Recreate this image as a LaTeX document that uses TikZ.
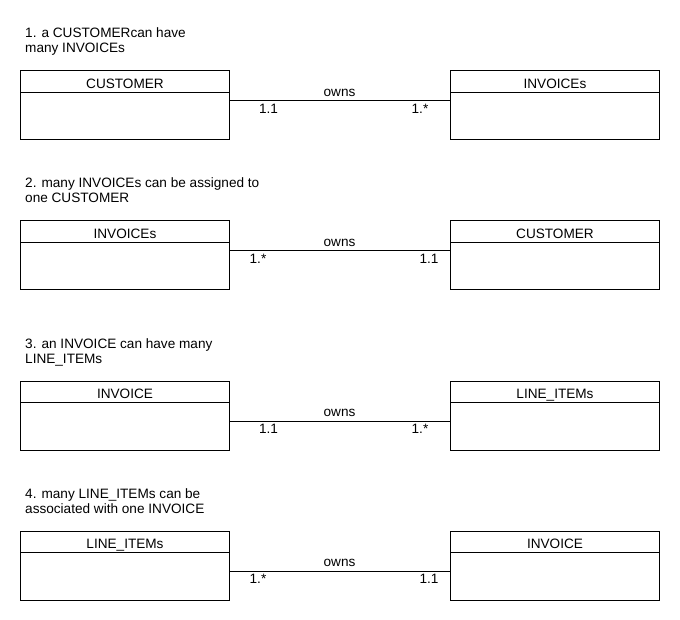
\documentclass[tikz,border=0pt]{standalone}
\usepackage{fontspec}
\setmainfont{Liberation Sans}
\usetikzlibrary{calc}
\tikzset{
  cls/.style={draw=black, line width=1pt, minimum width=209pt, minimum height=69pt, inner sep=0pt, anchor=north west},
  txt/.style={inner sep=0pt, font=\fontsize{13.6}{15}\selectfont},
  ttl/.style={txt, anchor=base west, align=left},
  conn/.style={draw=black, line width=1pt},
}
\newcommand{\umlbox}[4]{%
  \node[cls] (#1) at (#2,#3) {};
  \draw[line width=1pt] ([yshift=-22pt]#1.north west) -- ([yshift=-22pt]#1.north east);
  \node[txt, anchor=base] (#1t) at ([yshift=-18pt]#1.north) {#4};
}
\begin{document}
\begin{tikzpicture}[x=1pt, y=-1pt]
\useasboundingbox (0,0) rectangle (680,620);
\fill[white] (0,0) rectangle (680,620);
% 1
\node[ttl] (t1) at (25,53) {1. a CUSTOMERcan have\\many INVOICEs};
\umlbox{a1}{20}{70.5}{CUSTOMER}
\umlbox{b1}{450}{70.5}{INVOICEs}
\draw[conn] ([yshift=4.5pt]a1.east) -- ([yshift=4.5pt]b1.west);
\node[txt, anchor=base] (o1) at (339.5,96.5) {owns};
\node[txt, anchor=base] (m1a) at (268.5,113.5) {1.1};
\node[txt, anchor=base] (m1b) at (420,113.5) {1.*};
% 2
\node[ttl] (t2) at (25,203) {2. many INVOICEs can be assigned to\\one CUSTOMER};
\umlbox{a2}{20}{220.5}{INVOICEs}
\umlbox{b2}{450}{220.5}{CUSTOMER}
\draw[conn] ([yshift=4.5pt]a2.east) -- ([yshift=4.5pt]b2.west);
\node[txt, anchor=base] (o2) at (339.5,246.5) {owns};
\node[txt, anchor=base] (m2a) at (258,263.5) {1.*};
\node[txt, anchor=base] (m2b) at (429,263.5) {1.1};
% 3
\node[ttl] (t3) at (25,363) {3. an INVOICE can have many\\LINE\_ITEMs};
\umlbox{a3}{20}{380.5}{INVOICE}
\umlbox{b3}{450}{380.5}{LINE\_ITEMs}
\draw[conn] ([yshift=-5.5pt]a3.east) -- ([yshift=-5.5pt]b3.west);
\node[txt, anchor=base] (o3) at (339.5,416.5) {owns};
\node[txt, anchor=base] (m3a) at (268.5,433.5) {1.1};
\node[txt, anchor=base] (m3b) at (420,433.5) {1.*};
% 4
\node[ttl] (t4) at (25,513) {4. many LINE\_ITEMs can be\\associated with one INVOICE};
\umlbox{a4}{20}{530.5}{LINE\_ITEMs}
\umlbox{b4}{450}{530.5}{INVOICE}
\draw[conn] ([yshift=-5.5pt]a4.east) -- ([yshift=-5.5pt]b4.west);
\node[txt, anchor=base] (o4) at (339.5,566.5) {owns};
\node[txt, anchor=base] (m4a) at (258,583.5) {1.*};
\node[txt, anchor=base] (m4b) at (429,583.5) {1.1};
\end{tikzpicture}
\end{document}
